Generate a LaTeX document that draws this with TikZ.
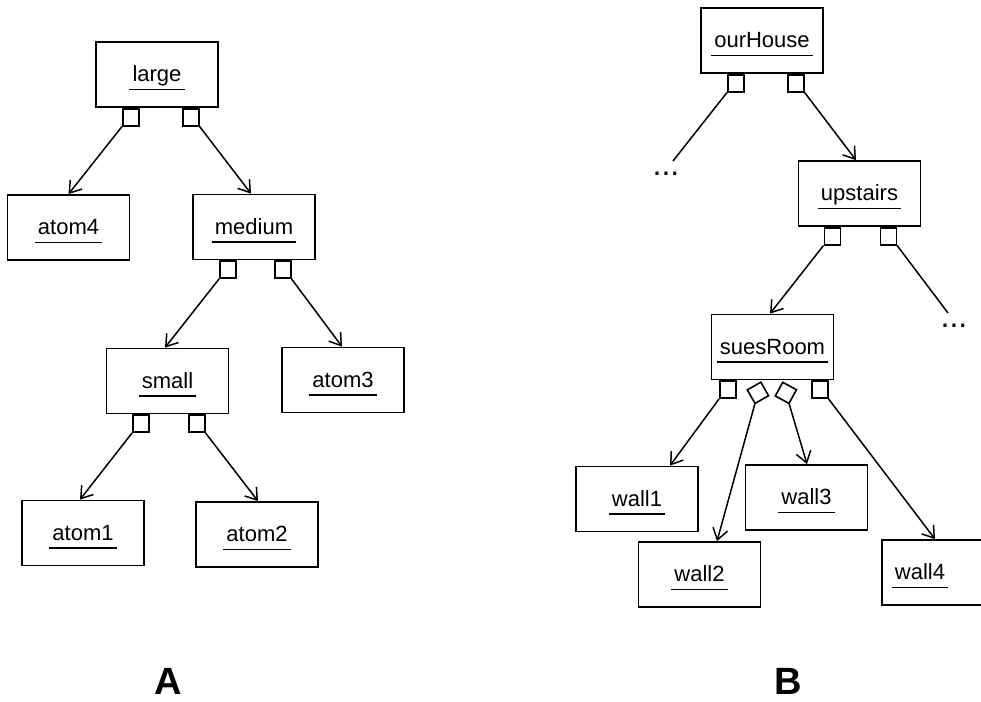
\documentclass[tikz,border=0pt]{standalone}
\usepackage{fontspec}
\setmainfont{Liberation Sans}
\usetikzlibrary{arrows.meta,calc}
\newcommand\umlobj[4]{% name, x, y, text
  \node[objbox] (#1) at (#2,#3) {};
  \node[objtxt, anchor=base] (#1-t) at ($(#1.center)+(0,7)$) {#4};
  \draw[uline] ([xshift=-3pt,yshift=-8pt]#1-t.base west) -- ([xshift=3pt,yshift=-8pt]#1-t.base east);
}
\begin{document}
\begin{tikzpicture}[x=1pt,y=-1pt,
  objbox/.style={draw, line width=1.8pt, minimum width=122pt, minimum height=65pt, inner sep=0pt},
  objtxt/.style={inner sep=0pt, font=\fontsize{22}{26}\selectfont},
  uline/.style={line width=1.5pt},
  sq/.style={draw, line width=1.6pt, minimum width=16pt, minimum height=17pt, inner sep=0pt, anchor=north west},
  conn/.style={line width=1.5pt},
  arr/.style={conn, -{Straight Barb[length=11pt,width=15pt,line width=1.5pt]}},
  dia/.style={line width=1.6pt, line join=miter},
  dots/.style={inner sep=0pt, font=\fontsize{32}{36}\selectfont, anchor=base},
  big/.style={inner sep=0pt, font=\fontsize{38}{42}\selectfont\bfseries, anchor=base}]
\useasboundingbox (0,0) rectangle (981,701);
\clip (0,0) rectangle (981,701);

% ---------- Tree A ----------
\umlobj{large}{157}{74.5}{large}
\umlobj{atom4}{68.5}{227.5}{atom4}
\umlobj{medium}{254}{227}{medium}
\umlobj{small}{167.5}{381}{small}
\umlobj{atom3}{343}{380}{atom3}
\umlobj{atom1}{83}{533}{atom1}
\umlobj{atom2}{257}{534.5}{atom2}

\node[sq] (large-s1) at ([xshift=-35pt]large.south) {};
\node[sq] (large-s2) at ([xshift=25pt]large.south) {};
\node[sq] (medium-s1) at ([xshift=-35pt]medium.south) {};
\node[sq] (medium-s2) at ([xshift=20pt]medium.south) {};
\node[sq] (small-s1) at ([xshift=-35.5pt]small.south) {};
\node[sq] (small-s2) at ([xshift=20.5pt]small.south) {};

\draw[arr] (large-s1.south west) -- (atom4.north);
\draw[arr] (large-s2.south east) -- ([xshift=-3pt]medium.north);
\draw[arr] (medium-s1.south west) -- ([xshift=-2.5pt]small.north);
\draw[arr] (medium-s2.south east) -- ([xshift=-1pt]atom3.north);
\draw[arr] (small-s1.south west) -- ([xshift=-3pt]atom1.north);
\draw[arr] (small-s2.south east) -- ([xshift=1pt]atom2.north);

\node[big] (labA) at (168,694) {A};

% ---------- Tree B ----------
\umlobj{ourHouse}{762}{40.5}{ourHouse}
\umlobj{upstairs}{859.5}{193.5}{upstairs}
\umlobj{suesRoom}{772.5}{347}{suesRoom}
\umlobj{wall1}{637}{499}{wall1}
\umlobj{wall2}{699.5}{574.5}{wall2}
\umlobj{wall3}{806.5}{497.5}{wall3}
% wall4 runs past the right edge
\node[objbox] (wall4) at (943,572.5) {};
\node[objtxt, anchor=base] (wall4-t) at (920,579.5) {wall4};
\draw[uline] ([xshift=-3pt,yshift=-8pt]wall4-t.base west) -- ([xshift=3pt,yshift=-8pt]wall4-t.base east);

\node[sq] (ourHouse-s1) at ([xshift=-35pt]ourHouse.south) {};
\node[sq] (ourHouse-s2) at ([xshift=25pt]ourHouse.south) {};
\node[sq] (upstairs-s1) at ([xshift=-36pt]upstairs.south) {};
\node[sq] (upstairs-s2) at ([xshift=20pt]upstairs.south) {};
\node[sq] (suesRoom-s1) at ([xshift=-53.5pt]suesRoom.south) {};
\node[sq] (suesRoom-s4) at ([xshift=38.5pt]suesRoom.south) {};

% ellipses
\node[dots] (ell1) at (666,175) {...};
\node[dots] (ell2) at (954,327) {...};
\coordinate (ell1-end) at (673,161);
\coordinate (ell2-end) at (948,313);

\draw[conn] (ourHouse-s1.south west) -- (ell1-end);
\draw[arr] (ourHouse-s2.south east) -- ([xshift=-3.5pt]upstairs.north);
\draw[arr] (upstairs-s1.south west) -- ([xshift=-2.5pt]suesRoom.north);
\draw[conn] (upstairs-s2.south east) -- (ell2-end);

% targets and diamonds
\coordinate (w1in) at ([xshift=33pt]wall1.north);
\coordinate (w2in) at ([xshift=17.5pt]wall2.north);
\coordinate (w3in) at ([xshift=0.5pt]wall3.north);
\coordinate (w4in) at ([xshift=-8pt]wall4.north);
\coordinate (d2) at ($(suesRoom.south)+(-17.5,23)$);
\coordinate (d3) at ($(suesRoom.south)+(16.5,23)$);

\draw[dia] (d2) -- ($(d2)!15.6pt!135:(w2in)$) -- ($(d2)!22pt!180:(w2in)$) -- ($(d2)!15.6pt!-135:(w2in)$) -- cycle;
\draw[dia] (d3) -- ($(d3)!15.6pt!135:(w3in)$) -- ($(d3)!22pt!180:(w3in)$) -- ($(d3)!15.6pt!-135:(w3in)$) -- cycle;

\draw[arr] (suesRoom-s1.south west) -- (w1in);
\draw[arr] (d2) -- (w2in);
\draw[arr] (d3) -- (w3in);
\draw[arr] (suesRoom-s4.south east) -- (w4in);

\node[big] (labB) at (788.5,694) {B};
\end{tikzpicture}
\end{document}
